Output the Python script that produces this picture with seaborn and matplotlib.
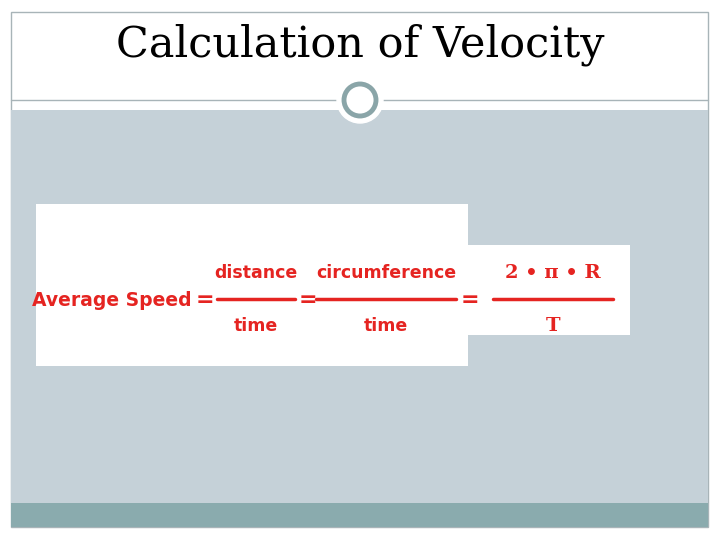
import matplotlib
matplotlib.use("Agg")
import matplotlib.pyplot as plt
import matplotlib.patches as mp
import seaborn as sns

title = "Calculation of Velocity"
lhs = "Average Speed"
fractions = [("distance", "time"), ("circumference", "time"), ("2 • π • R", "T")]
frac_x = [256, 386, 553]
frac_w = [39, 70, 60]
eq_x = [205, 308, 470]

sns.set_style("white")
fig = plt.figure(figsize=(7.2, 5.4), dpi=100)
ax = fig.add_axes([0, 0, 1, 1])
ax.set_xlim(0, 720); ax.set_ylim(540, 0); ax.axis("off")

ax.add_patch(mp.Rectangle((11, 12), 697, 515, fill=False, ec="#a8b4b8", lw=1))
ax.add_patch(mp.Rectangle((11, 110), 697, 393, color="#c5d1d8", lw=0))
ax.add_patch(mp.Rectangle((11, 503), 697, 24, color="#8aabae", lw=0))
ax.plot([11, 708], [100, 100], color="#a8b4b8", lw=1)
ax.add_patch(mp.Circle((360, 100), 23, color="white", zorder=3))
ax.add_patch(mp.Circle((360, 100), 16, fc="white", ec="#8aa5a8", lw=3.5, zorder=4))
ax.text(360, 45, title, ha="center", va="center", fontsize=31, family="DejaVu Serif", color="black")

ax.add_patch(mp.Rectangle((36, 204), 432, 162, color="white", lw=0))
ax.add_patch(mp.Rectangle((468, 245), 162, 90, color="white", lw=0))
red = "#e52421"
ax.text(192, 300, lhs, ha="right", va="center", fontsize=13.5, fontweight="bold", color=red)
for (n, d), x, w in zip(fractions, frac_x, frac_w):
    fam = "DejaVu Serif" if x == 553 else "DejaVu Sans"
    fs = 14 if x == 553 else 12.5
    ax.text(x, 273, n, ha="center", va="center", fontsize=fs, fontweight="bold", color=red, family=fam)
    ax.text(x, 326, d, ha="center", va="center", fontsize=fs, fontweight="bold", color=red, family=fam)
    ax.plot([x - w, x + w], [299, 299], color=red, lw=2.5)
for x in eq_x:
    ax.text(x, 300, "=", ha="center", va="center", fontsize=16, fontweight="bold", color=red)
fig.savefig("out.png", dpi=100)
